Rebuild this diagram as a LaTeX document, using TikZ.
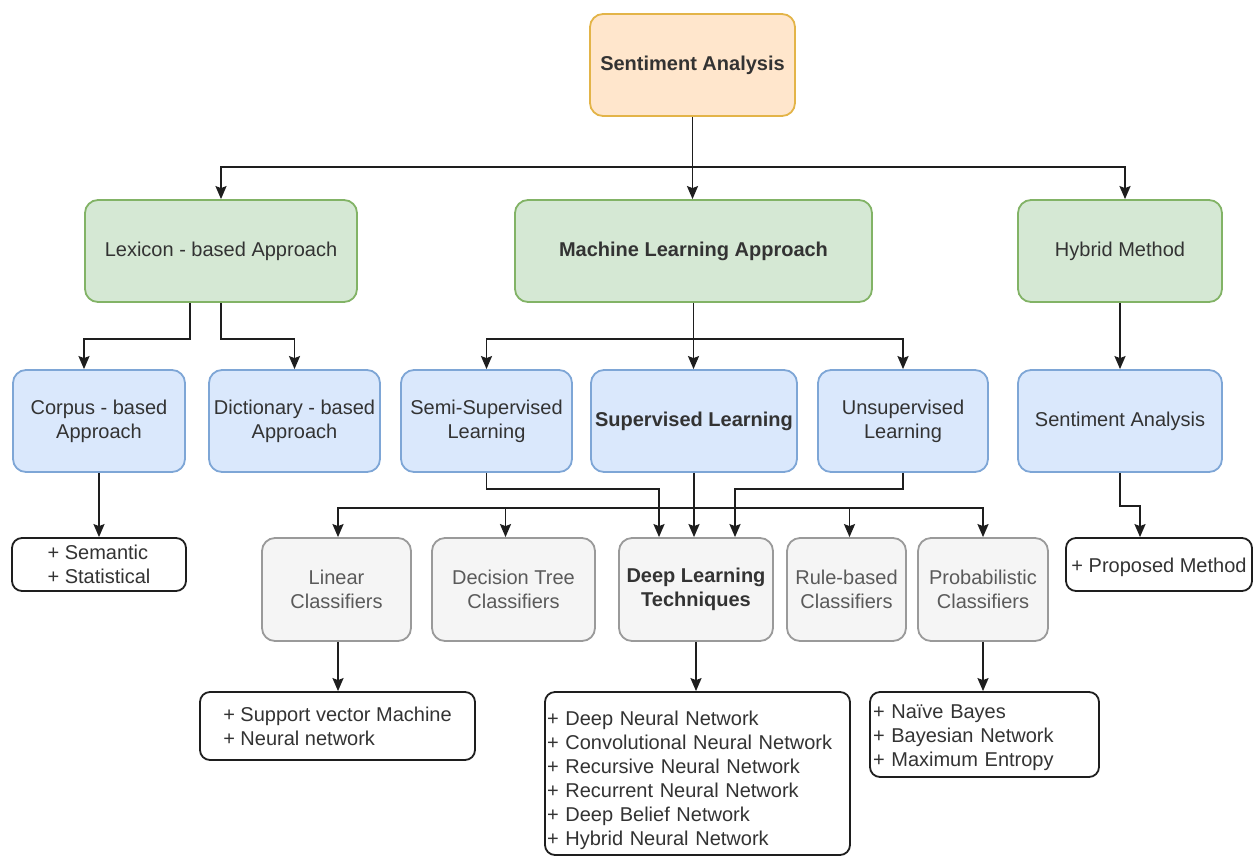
\documentclass[tikz,border=0pt]{standalone}
\usepackage{fontspec}
\setmainfont{Liberation Sans}
\usetikzlibrary{arrows.meta,calc}
\definecolor{orfill}{HTML}{FFE6CC}
\definecolor{ordraw}{HTML}{E3B448}
\definecolor{grfill}{HTML}{D5E8D4}
\definecolor{grdraw}{HTML}{82B366}
\definecolor{blfill}{HTML}{DAE8FC}
\definecolor{bldraw}{HTML}{7EA6D6}
\definecolor{gyfill}{HTML}{F5F5F5}
\definecolor{gydraw}{HTML}{9A9A9A}
\definecolor{txt}{HTML}{333333}
\definecolor{gytxt}{HTML}{5A5A5A}
\definecolor{wire}{HTML}{1E1E1E}
% strut that lowers a text block by half of its extra height
\newcommand{\lowerby}[1]{\rule{0pt}{#1}}
\begin{document}
\begin{tikzpicture}[x=1pt,y=-1pt,
  box/.style={rectangle,rounded corners=13pt,line width=1.8pt,align=center,
    inner sep=0pt,text=txt,font=\fontsize{20}{24}\selectfont},
  orbox/.style={box,fill=orfill,draw=ordraw},
  grbox/.style={box,fill=grfill,draw=grdraw},
  blbox/.style={box,fill=blfill,draw=bldraw},
  gybox/.style={box,fill=gyfill,draw=gydraw,text=gytxt},
  listbox/.style={rectangle,rounded corners=10pt,line width=1.8pt,draw=wire,fill=white,
    align=left,text=txt,font=\fontsize{20}{24}\selectfont},
  conn/.style={draw=wire,line width=1.8pt,-{Stealth[length=13pt,width=11pt,inset=2pt]}},
  wire/.style={draw=wire,line width=1.8pt}]
\useasboundingbox (0,0) rectangle (1257,857);

% level 0
\node[orbox,minimum width=205,minimum height=102] (top) at (692.5,65) {\bfseries Sentiment Analysis};

% level 1
\node[grbox,minimum width=272,minimum height=102] (lex) at (221,251) {Lexicon - based Approach};
\node[grbox,minimum width=357,minimum height=102] (ml) at (693.5,251) {\bfseries Machine Learning Approach};
\node[grbox,minimum width=204,minimum height=102] (hyb) at (1120,251) {Hybrid Method};

% level 2
\node[blbox,minimum width=172,minimum height=102] (cor) at (99,421) {Corpus - based\\Approach};
\node[blbox,minimum width=171,minimum height=102] (dic) at (294.5,421) {Dictionary - based\\Approach};
\node[blbox,minimum width=171,minimum height=102] (semi) at (486.5,421) {Semi-Supervised\\Learning};
\node[blbox,minimum width=206,minimum height=102] (sup) at (694,421) {\bfseries Supervised Learning};
\node[blbox,minimum width=170,minimum height=102] (uns) at (903,421) {Unsupervised\\Learning};
\node[blbox,minimum width=204,minimum height=102] (sa2) at (1120,421) {Sentiment Analysis};

% level 3
\node[listbox,minimum width=174,minimum height=53,inner sep=0pt] (sem) at (99,564.5) {+ Semantic\\+ Statistical};
\node[gybox,minimum width=149,minimum height=103] (lin) at (336.5,589.5) {Linear\\Classifiers};
\node[gybox,minimum width=163,minimum height=103] (dec) at (513.5,589.5) {Decision Tree\\Classifiers};
\node[gybox,minimum width=154,minimum height=103,text=txt] (dl) at (696,589.5) {\bfseries Deep Learning\\\bfseries Techniques};
\node[gybox,minimum width=119,minimum height=103] (rul) at (846.5,589.5) {Rule-based\\Classifiers};
\node[gybox,minimum width=130,minimum height=103] (prob) at (983,589.5) {Probabilistic\\Classifiers};
\node[listbox,minimum width=186,minimum height=53,inner sep=0pt] (pm) at (1159,564.5) {\lowerby{20pt}+ Proposed Method};

% level 4
\node[listbox,minimum width=275,minimum height=68,inner sep=0pt] (svm) at (337.5,726) {+ Support vector Machine\\+ Neural network};
\node[listbox,minimum height=163,text width=301pt,inner xsep=2pt,inner ysep=0pt] (dll) at (697.5,773.5)
  {\lowerby{28pt}+ Deep Neural Network\\+ Convolutional Neural Network\\+ Recursive Neural Network\\+ Recurrent Neural Network\\+ Deep Belief Network\\+ Hybrid Neural Network};
\node[listbox,minimum height=85,text width=223pt,inner xsep=3pt,inner ysep=0pt] (nb) at (984.5,734.5)
  {\lowerby{21pt}+ Naïve Bayes\\+ Bayesian Network\\+ Maximum Entropy};

% connectors: root to approaches
\coordinate (b1) at ($(top.south)+(0,50)$);
\draw[wire] (top.south) -- (b1);
\draw[conn] (b1) -| (lex.north);
\draw[conn] (b1) -- (b1 |- ml.north);
\draw[conn] (b1) -| ([xshift=5pt]hyb.north);

% lexicon branch
\draw[conn] ([xshift=-31pt]lex.south) -- ++(0,36) -| ([xshift=-15pt]cor.north);
\draw[conn] (lex.south) -- ++(0,36) -| (dic.north);
\draw[conn] (cor.south) -- (sem.north);

% machine learning branch
\coordinate (b2) at ($(ml.south)+(0,36)$);
\draw[conn] (ml.south) -- (ml.south |- sup.north);
\draw[conn] (b2) -| (semi.north);
\draw[conn] (b2) -| (uns.north);

% hybrid branch
\draw[conn] (hyb.south) -- (sa2.north);
\draw[conn] (sa2.south) -- ++(0,33) -| ([xshift=-19pt]pm.north);

% learning types to deep learning
\draw[conn] (semi.south) -- ++(0,16) -| ([xshift=-37pt]dl.north);
\draw[conn] (sup.south) -- (sup.south |- dl.north);
\draw[conn] (uns.south) -- ++(0,16) -| ([xshift=39pt]dl.north);

% supervised learning to classifiers
\coordinate (b3) at ($(sup.south)+(0,35)$);
\draw[conn] (b3) -| ([xshift=1.5pt]lin.north);
\draw[conn] (b3) -| ([xshift=-8pt]dec.north);
\draw[conn] (b3) -| ([xshift=3pt]rul.north);
\draw[conn] (b3) -| (prob.north);

% classifiers to examples
\draw[conn] ([xshift=1.5pt]lin.south) -- ([xshift=0.5pt]svm.north);
\draw[conn] (dl.south) -- (dl.south |- dll.north);
\draw[conn] (prob.south) -- (prob.south |- nb.north);
\end{tikzpicture}
\end{document}
